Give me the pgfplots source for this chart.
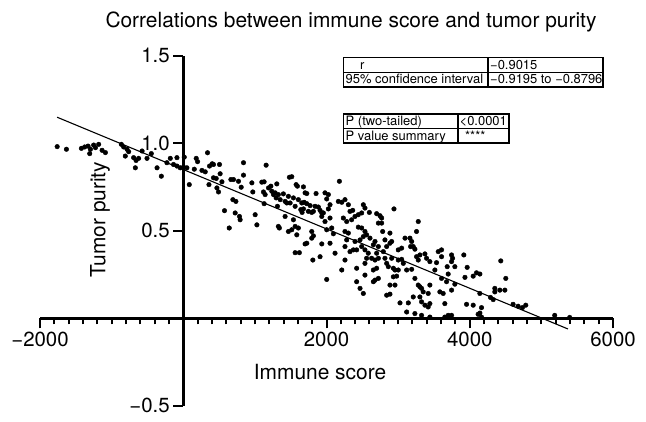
\documentclass[border=0pt]{standalone}
\usepackage{pgfplots}
\pgfplotsset{compat=1.18}
\usepackage{fontspec}
\setmainfont{TeX Gyre Heros}
\begin{document}
\begin{tikzpicture}[x=1bp,y=1bp]
\useasboundingbox (0,0) rectangle (646,421);
\begin{axis}[
  at={(40bp,15.2bp)}, anchor=south west,
  scale only axis, width=573bp, height=350bp,
  xmin=-2000, xmax=6000, ymin=-0.5, ymax=1.5,
  axis lines=middle,
  axis line style={line width=2.6bp, -},
  tick align=outside,
  xtick={-2000,2000,4000,6000},
  xticklabels={−2000,2000,4000,6000},
  minor xtick={-1800,-1600,...,5800},
  ytick={-0.5,0.5,1,1.5},
  yticklabels={−0.5,0.5,1.0,1.5},
  major tick length=10bp, minor tick length=6bp,
  tick style={line width=2bp, black},
  tick label style={font=\fontsize{20.5}{24}\selectfont},
  clip=false,
]
\addplot[only marks, mark=*, mark size=2.3bp, mark options={draw=black, fill=black}] table {
x y
-1760 0.981
-1631 0.966
-1422 0.971
-1376 0.979
-1329 0.984
-1296 0.966
-1306 0.941
-1251 0.990
-1226 0.975
-1181 0.994
-1133 0.960
-1087 0.947
-864 0.994
-832 0.979
-785 0.966
-809 0.927
-762 0.952
-693 0.918
-659 0.902
-623 0.914
-575 0.956
-506 0.914
-446 0.941
-669 0.860
-366 0.860
-306 0.812
-228 0.889
-181 0.914
-136 0.879
-88 0.918
-88 0.870
-42 0.860
14 0.921
4 0.864
51 0.860
154 0.852
84 0.764
181 0.914
200 0.895
261 0.845
307 0.837
339 0.946
367 0.870
404 0.883
422 0.879
359 0.764
422 0.803
460 0.799
470 0.745
492 0.722
506 0.879
515 0.826
540 0.780
576 0.615
642 0.516
665 0.793
701 0.793
693 0.678
735 0.668
725 0.602
785 0.582
794 0.563
771 0.783
809 0.749
841 0.889
841 0.818
958 0.774
971 0.722
1004 0.592
1028 0.534
1097 0.778
1129 0.780
1157 0.875
1120 0.722
1143 0.707
1129 0.655
1190 0.745
1223 0.755
1236 0.726
1260 0.707
1283 0.717
1306 0.768
1297 0.688
1328 0.707
1353 0.678
1328 0.525
1342 0.516
1315 0.640
1398 0.711
1422 0.668
1446 0.659
1422 0.582
1468 0.496
1482 0.806
1515 0.809
1576 0.764
1594 0.755
1678 0.751
1468 0.697
1492 0.659
1538 0.688
1562 0.640
1701 0.717
1725 0.713
1607 0.678
1655 0.659
1687 0.663
1725 0.655
1771 0.644
1641 0.621
1678 0.625
1659 0.605
1747 0.611
1794 0.605
1817 0.611
1854 0.713
1840 0.640
1886 0.636
1910 0.617
1934 0.602
1538 0.563
1562 0.525
1515 0.506
1607 0.516
1585 0.477
1562 0.375
1621 0.375
1701 0.425
1725 0.429
1794 0.496
1817 0.471
1794 0.458
1934 0.582
1956 0.602
1979 0.717
2026 0.707
2003 0.682
2049 0.649
2026 0.625
2049 0.573
1979 0.553
2003 0.506
2073 0.516
2096 0.483
1910 0.352
1809 0.333
1934 0.425
2049 0.429
2119 0.372
2003 0.222
2180 0.783
2165 0.668
2213 0.663
2258 0.678
2305 0.649
2328 0.611
2366 0.617
2235 0.573
2282 0.553
2351 0.563
2398 0.582
2444 0.592
2491 0.602
2514 0.649
2537 0.630
2258 0.496
2305 0.487
2282 0.448
2444 0.521
2468 0.448
2491 0.410
2398 0.439
2421 0.391
2258 0.410
2328 0.381
2375 0.391
2213 0.276
2258 0.333
2421 0.286
2537 0.314
2421 0.209
2468 0.171
2514 0.142
2537 0.391
2583 0.372
2560 0.343
2598 0.605
2700 0.598
2747 0.586
2770 0.573
2724 0.544
2770 0.544
2784 0.496
2942 0.625
2491 0.516
2537 0.496
2560 0.477
2514 0.467
2607 0.458
2677 0.439
2654 0.420
2724 0.410
2700 0.372
2630 0.343
2677 0.333
2724 0.343
2654 0.276
2700 0.286
2537 0.247
2677 0.218
2724 0.228
2654 0.209
2816 0.448
2840 0.410
2793 0.381
2886 0.429
2886 0.487
2910 0.439
2816 0.343
2840 0.314
2910 0.343
2863 0.295
2933 0.286
2956 0.276
2979 0.241
2933 0.237
2840 0.132
2886 0.138
2886 0.190
2956 0.190
3002 0.391
3049 0.401
3096 0.458
3002 0.333
3049 0.337
3072 0.314
3002 0.276
3165 0.458
3189 0.439
3174 0.410
3211 0.410
3234 0.395
3281 0.553
3257 0.496
3257 0.352
3281 0.333
3304 0.362
3119 0.276
3189 0.280
3234 0.228
3281 0.190
3304 0.180
3327 0.171
3350 0.151
3304 0.122
3327 0.094
3374 0.075
3420 0.065
3443 0.084
3026 0.088
3142 0.088
3211 0.122
3119 0.036
3234 0.027
3327 0.017
3443 0.007
3374 0.368
3397 0.343
3443 0.324
3443 0.190
3420 0.142
3513 0.276
3560 0.381
3606 0.391
3536 0.318
3583 0.151
3629 0.142
3652 0.084
3685 0.295
3699 0.253
3676 0.209
3652 0.007
3699 0.017
3606 0.352
3606 0.228
3746 0.362
3760 0.343
3746 0.324
3917 0.362
3792 0.295
3964 0.291
3933 0.234
4048 0.241
4094 0.260
4141 0.253
3746 0.161
3955 0.080
4048 0.075
3792 0.195
3746 0.017
4117 0.023
4141 0.030
4164 0.061
4164 0.007
4141 0.142
4290 0.119
4327 0.107
4350 0.151
4350 0.171
4420 0.161
4490 0.161
4433 0.328
4503 0.228
4605 0.080
4675 0.069
4735 0.061
4782 0.075
5186 0.017
5395 0.005
};
\addplot[black, line width=1.1bp, no marks] coordinates {(-1761,1.149) (5371,-0.061)};
\end{axis}
% title and axis labels
\node[anchor=base, inner sep=0, font=\fontsize{21}{25}\selectfont] at (351,393) {Correlations between immune score and tumor purity};
\node[anchor=base, inner sep=0, font=\fontsize{21}{25}\selectfont] at (320,41.5) {Immune score};
\node[rotate=90, inner sep=0, font=\fontsize{21}{25}\selectfont] at (100,201.5) {Tumor purity};
% table 1
\draw[line width=1.8bp] (343.5,333.7) rectangle (603,363.5);
\draw[line width=1.2bp] (343.5,348.2) -- (603,348.2);
\draw[line width=1.8bp] (488,333.7) -- (488,363.5);
\begin{scope}[every node/.style={anchor=base west, inner sep=0, font=\fontsize{13}{15}\selectfont}]
\node at (360,351.3) {r};
\node at (345.5,337.1) {95\% confidence interval};
\node at (490,351.3) {−0.9015};
\node at (490,337.1) {−0.9195 to −0.8796};
\end{scope}
% table 2
\draw[line width=1.8bp] (343.5,278) rectangle (509,307.4);
\draw[line width=1.2bp] (343.5,292.5) -- (509,292.5);
\draw[line width=1.8bp] (457.7,278) -- (457.7,307.4);
\begin{scope}[every node/.style={anchor=base west, inner sep=0, font=\fontsize{13}{15}\selectfont}]
\node at (345.5,295.5) {P (two-tailed)};
\node at (345.5,281) {P value summary};
\node at (459.5,295.5) {<0.0001};
\node at (465,281) {****};
\end{scope}
\end{tikzpicture}
\end{document}
